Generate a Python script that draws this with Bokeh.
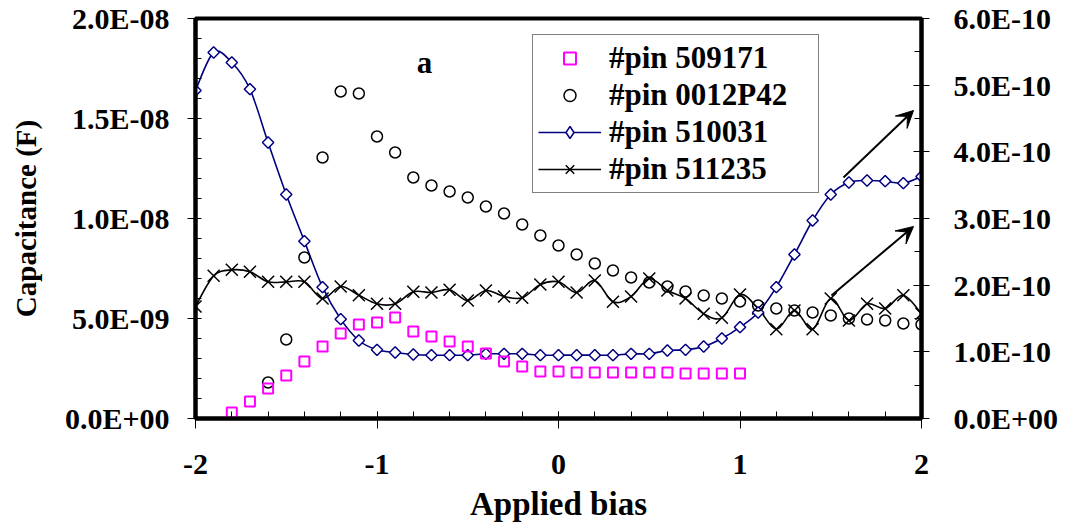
import numpy as np
from bokeh.plotting import figure
from bokeh.models import (Range1d, LinearAxis, FixedTicker, CustomJSTickFormatter,
                          Legend, LegendItem, Arrow, VeeHead, Label)
from bokeh.embed import file_html
from bokeh.resources import INLINE

# ---------------- data ----------------
bias_all = [-2.0, -1.9, -1.8, -1.7, -1.6, -1.5, -1.4, -1.3, -1.2, -1.1, -1.0,
            -0.9, -0.8, -0.7, -0.6, -0.5, -0.4, -0.3, -0.2, -0.1, 0.0,
            0.1, 0.2, 0.3, 0.4, 0.5, 0.6, 0.7, 0.8, 0.9, 1.0,
            1.1, 1.2, 1.3, 1.4, 1.5, 1.6, 1.7, 1.8, 1.9, 2.0]

# #pin 509171 (left axis, units of 1E-9 F), bias -1.8 .. 1.0
bias_509171 = [-1.8, -1.7, -1.6, -1.5, -1.4, -1.3, -1.2, -1.1, -1.0,
               -0.9, -0.8, -0.7, -0.6, -0.5, -0.4, -0.3, -0.2, -0.1, 0.0,
               0.1, 0.2, 0.3, 0.4, 0.5, 0.6, 0.7, 0.8, 0.9, 1.0]
cap_509171 = [0.3, 0.85, 1.5, 2.15, 2.85, 3.6, 4.25, 4.7, 4.8,
              5.05, 4.35, 4.1, 3.85, 3.6, 3.25, 2.85, 2.6, 2.35, 2.35,
              2.3, 2.3, 2.3, 2.3, 2.3, 2.3, 2.25, 2.25, 2.25, 2.25]

# #pin 0012P42 (left axis, units of 1E-9 F), bias -1.6 .. 2.0
bias_0012P42 = [-1.6, -1.5, -1.4, -1.3, -1.2, -1.1, -1.0,
                -0.9, -0.8, -0.7, -0.6, -0.5, -0.4, -0.3, -0.2, -0.1, 0.0,
                0.1, 0.2, 0.3, 0.4, 0.5, 0.6, 0.7, 0.8, 0.9, 1.0,
                1.1, 1.2, 1.3, 1.4, 1.5, 1.6, 1.7, 1.8, 1.9, 2.0]
cap_0012P42 = [1.8, 3.95, 8.05, 13.05, 16.35, 16.25, 14.1,
               13.3, 12.05, 11.65, 11.35, 11.05, 10.6, 10.25, 9.7, 9.15, 8.65,
               8.2, 7.75, 7.4, 7.05, 6.8, 6.6, 6.35, 6.15, 6.0, 5.85,
               5.65, 5.5, 5.4, 5.3, 5.15, 5.0, 4.95, 4.9, 4.75, 4.7]

# #pin 510031 (right axis, units of 1E-10 F), bias -2 .. 2
cap_510031 = [4.92, 5.49, 5.34, 4.94, 4.14, 3.36, 2.66, 1.97, 1.49, 1.17, 1.03,
              0.99, 0.96, 0.95, 0.95, 0.95, 0.97, 0.97, 0.97, 0.95, 0.95,
              0.95, 0.95, 0.95, 0.97, 0.97, 1.02, 1.03, 1.08, 1.20, 1.37,
              1.59, 1.97, 2.46, 2.97, 3.36, 3.54, 3.57, 3.56, 3.53, 3.63]

# #pin 511235 (right axis, units of 1E-10 F), bias -2 .. 2
cap_511235 = [1.68, 2.14, 2.23, 2.20, 2.05, 2.05, 2.05, 1.80, 1.98, 1.85, 1.72,
              1.72, 1.90, 1.89, 1.93, 1.77, 1.92, 1.83, 1.81, 2.01, 2.05,
              1.89, 2.07, 1.75, 1.83, 2.10, 1.92, 1.80, 1.57, 1.51, 1.86,
              1.65, 1.34, 1.62, 1.34, 1.80, 1.47, 1.72, 1.65, 1.85, 1.57]

series_labels = ["#pin 509171", "#pin 0012P42", "#pin 510031", "#pin 511235"]

x_ticks = [-2, -1, 0, 1, 2]
x_tick_labels = ["-2", "-1", "0", "1", "2"]
left_ticks = [0.0, 5e-9, 1e-8, 1.5e-8, 2e-8]
left_tick_labels = ["0.0E+00", "5.0E-09", "1.0E-08", "1.5E-08", "2.0E-08"]
right_ticks = [0.0, 1e-10, 2e-10, 3e-10, 4e-10, 5e-10, 6e-10]
right_tick_labels = ["0.0E+00", "1.0E-10", "2.0E-10", "3.0E-10", "4.0E-10", "5.0E-10", "6.0E-10"]

# annotation arrows (bias, capacitance in left-axis units)
arrow_upper = (1.57, 12.05e-9, 1.956, 15.4e-9)
arrow_lower = (1.504, 6.15e-9, 1.956, 9.6e-9)

# ---------------- helpers ----------------
def smooth_segments(xs, ys):
    xs = np.asarray(xs, float)
    ys = np.asarray(ys, float)
    n = len(xs)
    out = dict(x0=[], y0=[], x1=[], y1=[], cx0=[], cy0=[], cx1=[], cy1=[])
    for i in range(n - 1):
        im1 = max(i - 1, 0)
        ip2 = min(i + 2, n - 1)
        out["x0"].append(xs[i]); out["y0"].append(ys[i])
        out["x1"].append(xs[i + 1]); out["y1"].append(ys[i + 1])
        out["cx0"].append(xs[i] + (xs[i + 1] - xs[im1]) / 6.0)
        out["cy0"].append(ys[i] + (ys[i + 1] - ys[im1]) / 6.0)
        out["cx1"].append(xs[i + 1] - (xs[ip2] - xs[i]) / 6.0)
        out["cy1"].append(ys[i + 1] - (ys[ip2] - ys[i]) / 6.0)
    return out

FMT_CODE = """
let best = 0, bd = Infinity;
for (let i = 0; i < tv.length; i++) {
  const d = Math.abs(tv[i] - tick);
  if (d < bd) { bd = d; best = i; }
}
return tl[best];
"""

def fmt(ticks, labels):
    return CustomJSTickFormatter(args=dict(tv=list(ticks), tl=list(labels)), code=FMT_CODE)

FONT = "Liberation Serif"
TICK_SIZE = "30px"

# ---------------- figure ----------------
p = figure(width=1065, height=529, output_backend="svg", toolbar_location=None,
           x_range=Range1d(-2, 2), y_range=Range1d(0, 2e-8),
           min_border_left=195, min_border_right=144, min_border_top=18, min_border_bottom=111,
           background_fill_color="white", border_fill_color="white")
p.extra_y_ranges = {"right": Range1d(0, 6e-10)}
p.grid.visible = False
p.outline_line_color = "black"
p.outline_line_width = 4

# x axis
xa = p.xaxis[0]
xa.ticker = FixedTicker(ticks=x_ticks, minor_ticks=list(np.round(np.arange(-2, 2.001, 0.2), 2)))
xa.formatter = fmt(x_ticks, x_tick_labels)
xa.axis_label = "Applied bias"

# left axis
ya = p.yaxis[0]
ya.ticker = FixedTicker(ticks=left_ticks, minor_ticks=[i * 1e-9 for i in range(21)])
ya.formatter = fmt(left_ticks, left_tick_labels)
ya.axis_label = "Capacitance (F)"

# right axis
ra = LinearAxis(y_range_name="right")
ra.ticker = FixedTicker(ticks=right_ticks, minor_ticks=[i * 0.5e-10 for i in range(13)])
ra.formatter = fmt(right_ticks, right_tick_labels)
p.add_layout(ra, "right")

for ax in (xa, ya, ra):
    ax.axis_line_color = "black"
    ax.axis_line_width = 4
    ax.major_tick_line_color = "black"
    ax.minor_tick_line_color = "black"
    ax.major_tick_line_width = 1
    ax.minor_tick_line_width = 1
    ax.major_label_text_font = FONT
    ax.major_label_text_font_style = "bold"
    ax.major_label_text_font_size = TICK_SIZE
    ax.major_label_text_color = "black"
    ax.axis_label_text_font = FONT
    ax.axis_label_text_font_style = "bold"
    ax.axis_label_text_color = "black"

xa.axis_label_text_font_size = "33px"
ya.axis_label_text_font_size = "29px"

xa.major_tick_out = 10
xa.major_tick_in = 7
xa.minor_tick_out = 0
xa.minor_tick_in = 7
xa.major_label_standoff = 26
xa.axis_label_standoff = 9

ya.major_tick_out = 8
ya.major_tick_in = 0
ya.minor_tick_out = 0
ya.minor_tick_in = 6
ya.major_label_standoff = 18
ya.axis_label_standoff = 20

ra.major_tick_out = 8
ra.major_tick_in = 8
ra.minor_tick_out = 0
ra.minor_tick_in = 7
ra.major_label_standoff = 24

# ---------------- glyphs ----------------
b_all = bias_all
y510 = [v * 1e-10 for v in cap_510031]
y511 = [v * 1e-10 for v in cap_511235]
y509 = [v * 1e-9 for v in cap_509171]
y0012 = [v * 1e-9 for v in cap_0012P42]

NAVY = "#000080"
MAG = "#FF00FF"

seg511 = smooth_segments(b_all, y511)
l511 = p.bezier(**seg511, line_color="black", line_width=1.6, y_range_name="right")
m511 = p.scatter(b_all, y511, marker="x", size=17, line_color="black", line_width=1.5,
                 y_range_name="right")

seg510 = smooth_segments(b_all, y510)
l510 = p.bezier(**seg510, line_color=NAVY, line_width=1.6, y_range_name="right")
# diamond key (drawn underneath, fully covered by the rotated squares; gives the legend its diamond)
k510 = p.scatter(b_all, y510, marker="diamond", size=10, line_color=NAVY,
                 line_width=1.5, fill_color="white", y_range_name="right")
m510 = p.scatter(b_all, y510, marker="square", angle=np.pi / 4, size=8, line_color=NAVY,
                 line_width=1.5, fill_color="white", y_range_name="right")

m0012 = p.scatter(bias_0012P42, y0012, marker="circle", size=11, line_color="black",
                  line_width=1.5, fill_color=None)
m509 = p.scatter(bias_509171, y509, marker="square", size=10, line_color=MAG,
                 line_width=2, fill_color=None)

# arrows
for (xs, ys, xe, ye) in (arrow_upper, arrow_lower):
    p.add_layout(Arrow(x_start=xs, y_start=ys, x_end=xe, y_end=ye, line_color="black",
                       line_width=2,
                       end=VeeHead(size=17, fill_color="black", line_color="black",
                                   line_width=1)))

# panel label
p.add_layout(Label(x=-0.738, y=17.8e-9, text="a", text_font=FONT, text_font_style="bold",
                   text_font_size="31px", text_align="center", text_baseline="middle",
                   text_color="black"))

# legend
legend = Legend(items=[
    LegendItem(label=series_labels[0], renderers=[m509]),
    LegendItem(label=series_labels[1], renderers=[m0012]),
    LegendItem(label=series_labels[2], renderers=[l510, k510]),
    LegendItem(label=series_labels[3], renderers=[l511, m511]),
], location=(337, 225))
legend.border_line_color = "black"
legend.border_line_width = 1
legend.background_fill_color = "white"
legend.background_fill_alpha = 1
legend.label_text_font = FONT
legend.label_text_font_style = "bold"
legend.label_text_font_size = "31px"
legend.label_text_color = "black"
legend.label_text_baseline = "middle"
legend.padding = 5
legend.spacing = 1
legend.margin = 0
legend.glyph_width = 63
legend.glyph_height = 30
legend.label_height = 30
legend.label_width = 204
legend.label_standoff = 8
p.add_layout(legend, "center")

open("out.html", "w").write(file_html(p, INLINE))
